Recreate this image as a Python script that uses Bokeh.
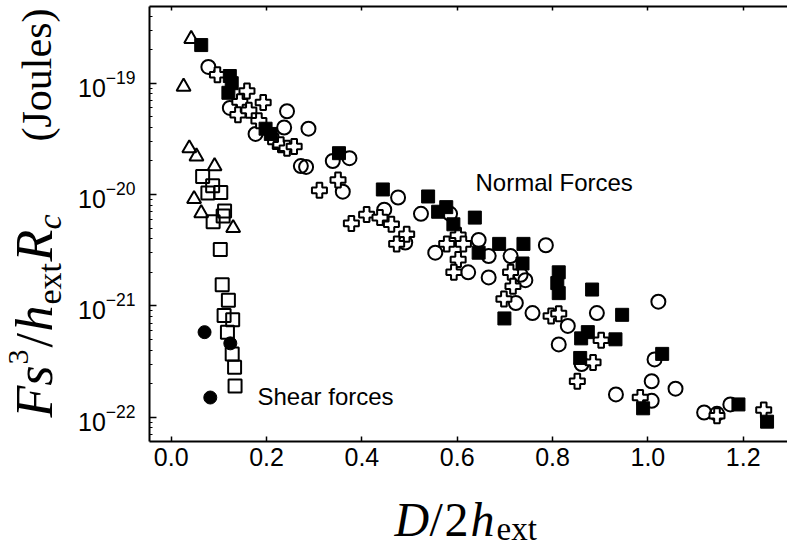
import numpy as np
from bokeh.plotting import figure
from bokeh.models import (Range1d, FixedTicker, NumeralTickFormatter, LinearAxis, Label,
                          CustomJSTickFormatter)
from bokeh.embed import file_html
from bokeh.resources import INLINE

# ---------------- data ----------------
# Shear forces
tri_x = [0.042, 0.026, 0.038, 0.053, 0.091, 0.048, 0.063, 0.130]
tri_y = [2.5e-19, 9.3e-20, 2.6e-20, 2.2e-20, 1.8e-20, 9.1e-21, 6.8e-21, 5.0e-21]

osq_x = [0.066, 0.087, 0.077, 0.104, 0.112, 0.088, 0.109, 0.103, 0.107, 0.120,
         0.111, 0.129, 0.118, 0.128, 0.133, 0.134]
osq_y = [1.45e-20, 1.2e-20, 1.03e-20, 1.04e-20, 7.1e-21, 5.7e-21, 6.4e-21, 3.2e-21,
         1.55e-21, 1.12e-21, 8.2e-22, 7.5e-22, 5.8e-22, 3.7e-22, 2.8e-22, 1.9e-22]

fc_x = [0.070, 0.124, 0.082]
fc_y = [5.8e-22, 4.6e-22, 1.5e-22]

# Normal forces
oc_x = [0.078, 0.123, 0.243, 0.237, 0.288, 0.177, 0.272, 0.283, 0.339, 0.374,
        0.360, 0.476, 0.447, 0.491, 0.524, 0.585, 0.554, 0.645, 0.666, 0.623,
        0.666, 0.786, 0.712, 0.733, 0.743, 0.723, 0.758, 0.893, 1.022, 0.832,
        0.813, 0.861, 1.014, 1.008, 1.058, 0.933, 1.008, 1.118, 1.145, 1.173]
oc_y = [1.4e-19, 6.0e-20, 5.6e-20, 4.0e-20, 3.9e-20, 3.5e-20, 1.8e-20, 1.77e-20, 2.0e-20, 2.12e-20,
        1.06e-20, 9.4e-21, 7.3e-21, 3.7e-21, 6.7e-21, 6.7e-21, 3.0e-21, 3.9e-21, 2.8e-21, 2.0e-21,
        1.8e-21, 3.5e-21, 2.8e-21, 1.9e-21, 1.7e-21, 1.06e-21, 8.6e-22, 8.6e-22, 1.09e-21, 6.6e-22,
        4.5e-22, 3.0e-22, 3.3e-22, 2.1e-22, 1.8e-22, 1.6e-22, 1.4e-22, 1.1e-22, 1.07e-22, 1.3e-22]

fs_x = [0.063, 0.123, 0.127, 0.120, 0.198, 0.209, 0.352, 0.444, 0.539, 0.560,
        0.577, 0.592, 0.637, 0.645, 0.688, 0.739, 0.737, 0.699, 0.813, 0.810,
        0.813, 0.883, 0.946, 0.874, 0.860, 0.932, 0.858, 1.030, 0.990, 1.190, 1.250]
fs_y = [2.2e-19, 1.16e-19, 1.0e-19, 8.2e-20, 3.9e-20, 3.5e-20, 2.35e-20, 1.11e-20, 9.6e-21, 7.0e-21,
        7.7e-21, 5.4e-21, 6.2e-21, 3.0e-21, 3.6e-21, 3.6e-21, 2.4e-21, 7.7e-22, 2.0e-21, 1.6e-21,
        1.3e-21, 1.4e-21, 8.3e-22, 5.8e-22, 5.1e-22, 5.0e-22, 3.4e-22, 3.7e-22, 1.2e-22, 1.3e-22, 9.1e-23]

cr_x = [0.097, 0.159, 0.144, 0.140, 0.163, 0.193, 0.184, 0.219, 0.230, 0.243,
        0.258, 0.311, 0.350, 0.378, 0.410, 0.438, 0.462, 0.494, 0.473, 0.578,
        0.602, 0.613, 0.602, 0.593, 0.712, 0.717, 0.698, 0.797, 0.813, 0.902,
        0.885, 0.852, 0.984, 1.145, 1.243]
cr_y = [1.19e-19, 8.5e-20, 6.8e-20, 5.2e-20, 5.7e-20, 6.7e-20, 4.6e-20, 3.0e-20, 2.8e-20, 2.6e-20,
        2.7e-20, 1.09e-20, 1.35e-20, 5.5e-21, 6.6e-21, 6.2e-21, 5.4e-21, 4.4e-21, 3.6e-21, 3.6e-21,
        4.3e-21, 3.6e-21, 2.6e-21, 2.0e-21, 2.0e-21, 1.5e-21, 1.15e-21, 8.1e-22, 8.5e-22, 4.9e-22,
        3.1e-22, 2.1e-22, 1.5e-22, 1.03e-22, 1.16e-22]

x_ticks = [0.0, 0.2, 0.4, 0.6, 0.8, 1.0, 1.2]

# ---------------- layout ----------------
# The frame fills the whole canvas; axes are pinned (fixed_location) to the
# edges of the plotting box so that texts outside the box are not clipped.
W, H = 787, 547
KX = 476.69          # px per unit of D/2h_ext
KY = 111.31          # px per decade
XC0 = -0.35807       # x at canvas left edge
LC1 = -18.2571       # log10(y) at canvas top edge

def px2x(px):
    return XC0 + px / KX

def py2y(py):
    return 10 ** (LC1 - py / KY)

XL, XR = px2x(149), px2x(W)
YB, YT = py2y(441), py2y(6)

p = figure(width=W, height=H, output_backend="svg", toolbar_location=None,
           x_range=Range1d(px2x(0), px2x(W)), y_range=Range1d(py2y(H), py2y(0)),
           y_axis_type="log",
           min_border_left=0, min_border_right=0, min_border_top=0, min_border_bottom=0)
p.outline_line_color = None
p.xgrid.visible = False
p.ygrid.visible = False
p.background_fill_color = "white"
p.border_fill_color = "white"

SANS = "Liberation Sans"
SERIF = "Liberation Serif"

xa = p.xaxis[0]
xa.fixed_location = YB
xa.bounds = (XL, XR)
xa.ticker = FixedTicker(ticks=x_ticks)
xa.formatter = NumeralTickFormatter(format="0.0")
xa.major_tick_in = 5
xa.major_tick_out = 0
xa.minor_tick_in = 0
xa.minor_tick_out = 0
xa.axis_line_width = 2
xa.major_tick_line_width = 1.5
xa.major_label_text_font = SANS
xa.major_label_text_font_size = "25px"
xa.major_label_text_color = "black"
xa.major_label_standoff = 6

ya = p.yaxis[0]
ya.fixed_location = XL
ya.bounds = (YB, YT)
ya.major_tick_in = 7
ya.major_tick_out = 0
ya.minor_tick_in = 3
ya.minor_tick_out = 0
ya.axis_line_width = 2
ya.major_tick_line_width = 1.5
ya.minor_tick_line_width = 1
ya.major_label_text_font = SANS
ya.major_label_text_font_size = "25px"
ya.major_label_text_color = "black"
ya.major_label_standoff = 14

top = LinearAxis(ticker=FixedTicker(ticks=x_ticks),
                 formatter=CustomJSTickFormatter(code="return ''"))
top.fixed_location = YT
top.bounds = (XL, XR)
top.major_tick_in = 4
top.major_tick_out = 0
top.minor_tick_in = 0
top.minor_tick_out = 0
top.axis_line_width = 2
top.major_tick_line_width = 1.5
p.add_layout(top, "above")

# ---------------- markers ----------------
LW = 2
p.scatter(oc_x, oc_y, marker="circle", size=14, fill_color=None, line_color="black", line_width=LW)
p.scatter(cr_x, cr_y, marker="plus", size=15, fill_color="white", line_color="black", line_width=LW)
p.scatter(fs_x, fs_y, marker="square", size=13, fill_color="black", line_color="black", line_width=1)
p.scatter(tri_x, tri_y, marker="triangle", size=14, fill_color=None, line_color="black", line_width=LW)
p.scatter(osq_x, osq_y, marker="square", size=13, fill_color=None, line_color="black", line_width=LW)
p.scatter(fc_x, fc_y, marker="circle", size=13, fill_color="black", line_color="black", line_width=1)

# ---------------- texts ----------------
SHIFT = 0.31   # observed baseline offset of labels, in em

def lab(text, px, py, size, font=SERIF, style="normal", angle=0.0, baseline="alphabetic"):
    fs = float(size.replace("px", ""))
    if baseline == "alphabetic":
        if angle == 0.0:
            py = py - SHIFT * fs
        else:
            px = px - SHIFT * fs
    p.add_layout(Label(x=px2x(px), y=py2y(py), text=text, text_font=font,
                       text_font_style=style, text_font_size=size, angle=angle,
                       text_align="left", text_baseline=baseline, text_color="black"))

lab("Normal Forces", 475, 182, "24px", font=SANS, baseline="middle")
lab("Shear forces", 257, 396, "24px", font=SANS, baseline="middle")

# x axis label: D/2h_ext
lab("D", 394, 534, "48px", style="italic")
lab("/", 429, 534, "48px")
lab("2", 444, 534, "48px")
lab("h", 470, 534, "48px", style="italic")
lab("ext", 496, 539, "33px")

# y axis label: F s^3 / h_ext R_c  (Joules)
R = np.pi / 2
lab("Fs", 50, 417, "52px", style="italic", angle=R)
lab("3", 27, 364, "30px", angle=R)
lab("/", 50, 347, "52px", angle=R)
lab("h", 50, 331, "52px", style="italic", angle=R)
lab("ext", 60, 304, "34px", angle=R)
lab("R", 50, 261, "52px", style="italic", angle=R)
lab("c", 60, 229, "34px", style="italic", angle=R)
lab("(Joules)", 50, 141, "42px", angle=R)

open("out.html", "w").write(file_html(p, INLINE))
